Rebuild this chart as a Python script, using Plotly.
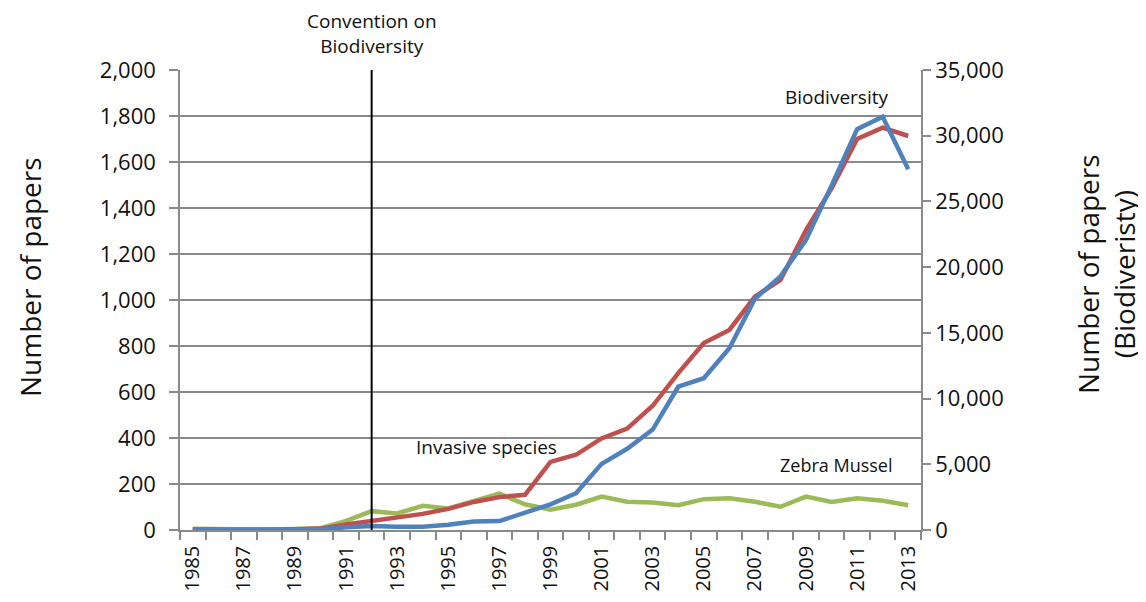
import plotly.graph_objects as go

years = list(range(1985, 2014))
biodiversity = [0, 0, 0, 0, 0, 50, 200, 300, 250, 250, 400, 650, 680, 1300, 1950, 2800,
                5030, 6180, 7640, 10900, 11550, 13830, 17600, 19300, 22070, 26200, 30500,
                31450, 27450]
invasive = [2, 1, 0, 1, 3, 6, 24, 40, 57, 70, 92, 122, 143, 153, 296, 327, 398, 441, 540,
            682, 813, 870, 1014, 1087, 1304, 1485, 1700, 1749, 1713]
zebra = [5, 3, 1, 2, 4, 8, 40, 82, 72, 105, 94, 127, 158, 112, 88, 110, 145, 123, 120, 108,
         134, 138, 123, 101, 145, 122, 138, 127, 108]
label_years = list(range(1985, 2014, 2))
left_ticks = list(range(0, 2001, 200))
right_ticks = list(range(0, 35001, 5000))
convention_year = 1992

FONT = "Open Sans"
GRID = "#8a8a8a"

# page has an 8px body margin; figure is offset accordingly
OFF = 8
W, H = 1138, 594
L, R, T, B = 172, 225, 62, 72
PW, PH = W - L - R, H - T - B

fig = go.Figure()
fig.add_trace(go.Scatter(x=years, y=zebra, mode="lines", name="Zebra Mussel",
                         line=dict(color="#9BBB59", width=4.5), yaxis="y"))
fig.add_trace(go.Scatter(x=years, y=biodiversity, mode="lines", name="Biodiversity",
                         line=dict(color="#4F81BD", width=4.5), yaxis="y2"))
fig.add_trace(go.Scatter(x=years, y=invasive, mode="lines", name="Invasive species",
                         line=dict(color="#C0504D", width=4.5), yaxis="y"))

fig.add_shape(type="line", xref="x", yref="y", x0=convention_year, x1=convention_year,
              y0=0, y1=2000, line=dict(color="black", width=2))

fig.update_layout(
    width=W, height=H,
    margin=dict(l=L, r=R, t=T, b=B, autoexpand=False),
    plot_bgcolor="white", paper_bgcolor="white",
    showlegend=False,
    font=dict(family=FONT, color="#111111"),
    xaxis=dict(
        range=[1984.5, 2013.5], tickmode="array", tickvals=label_years,
        ticktext=[str(y) for y in label_years], tickangle=-90, automargin=False,
        tickfont=dict(size=20), ticks="", ticklabelstandoff=6,
        showgrid=False, zeroline=False,
        showline=True, linecolor=GRID, linewidth=1.5,
        minor=dict(tickmode="linear", tick0=1984.5, dtick=1, ticks="outside",
                   ticklen=8, tickcolor=GRID, tickwidth=1.5, showgrid=False),
    ),
    yaxis=dict(
        range=[0, 2000], tickmode="array", tickvals=left_ticks, automargin=False,
        tickformat=",", tickfont=dict(size=22), ticks="outside", ticklen=9,
        ticklabelstandoff=9,
        tickcolor=GRID, tickwidth=1.5, showgrid=True, gridcolor=GRID, gridwidth=1.5,
        zeroline=False, showline=True, linecolor=GRID, linewidth=1.5,
    ),
    yaxis2=dict(
        range=[0, 35000], tickmode="array", tickvals=right_ticks, automargin=False,
        tickformat=",", tickfont=dict(size=22), ticks="outside", ticklen=8,
        ticklabelstandoff=0,
        tickcolor=GRID, tickwidth=1.5, showgrid=False, zeroline=False,
        showline=True, linecolor=GRID, linewidth=1.5,
        overlaying="y", side="right",
    ),
)


def px(xp):
    return (xp - OFF - L) / PW


def py(yp):
    return (H - B - (yp - OFF)) / PH


fig.add_annotation(text="Number of papers", xref="paper", yref="paper",
                   x=px(30), y=py(277), showarrow=False, textangle=-90,
                   font=dict(size=28, family=FONT), xanchor="center", yanchor="middle")
fig.add_annotation(text="Number of papers<br>(Biodiveristy)", xref="paper", yref="paper",
                   x=px(1106), y=py(274), showarrow=False, textangle=-90,
                   font=dict(size=28, family=FONT), xanchor="center", yanchor="middle")

fig.add_annotation(text="Convention on<br>Biodiversity", xref="x", yref="paper",
                   x=convention_year, y=1.0, yshift=9, showarrow=False,
                   xanchor="center", yanchor="bottom", font=dict(size=19, family=FONT))
fig.add_annotation(text="Biodiversity", xref="x", yref="y", x=2010.2, y=1883,
                   showarrow=False, xanchor="center", yanchor="middle",
                   font=dict(size=19, family=FONT))
fig.add_annotation(text="Invasive species", xref="x", yref="y", x=1996.5, y=361,
                   showarrow=False, xanchor="center", yanchor="middle",
                   font=dict(size=19, family=FONT))
fig.add_annotation(text="Zebra Mussel", xref="x", yref="y", x=2010.2, y=283,
                   showarrow=False, xanchor="center", yanchor="middle",
                   font=dict(size=18, family=FONT))

fig.write_html("out.html")
